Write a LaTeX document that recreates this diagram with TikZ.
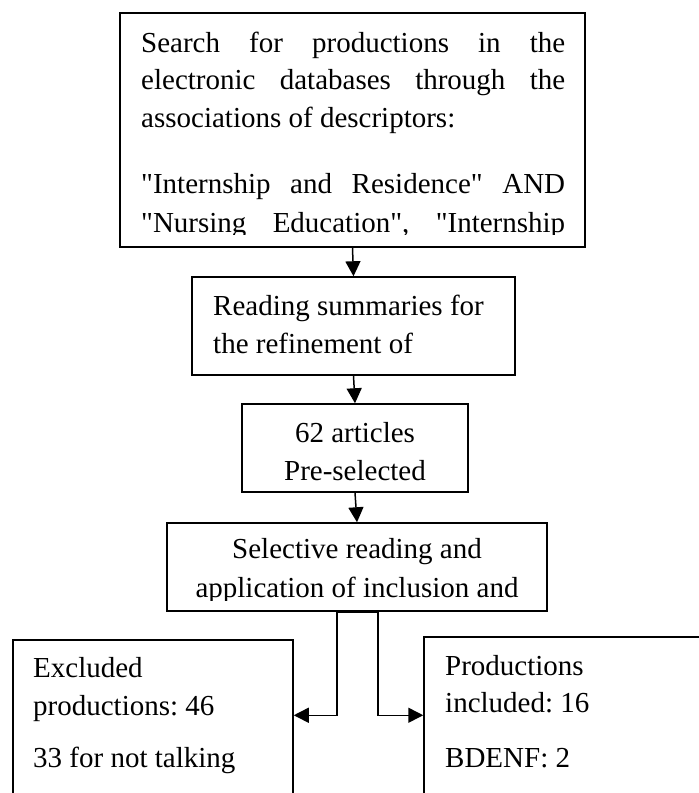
\documentclass[tikz,border=0pt]{standalone}
\usepackage{fontspec}
\setmainfont{Liberation Serif}[Ligatures=TeXOff]
\usetikzlibrary{arrows.meta,positioning,calc}
\frenchspacing

\begin{document}
\begin{tikzpicture}[>=Stealth, x=1pt, y=-1pt,
  box/.style={draw, line width=1.5pt, rectangle, inner sep=0pt},
  txt/.style={inner sep=0pt, font=\fontsize{29}{38}\selectfont},
  arr/.style={-{Triangle[length=15pt,width=15pt]}, line width=1.5pt}]
  \clip (0,0) rectangle (699,793);

  % Boxes
  \node[box, minimum width=465, minimum height=234] (search) at (352.5,130) {};
  \node[box, minimum width=323, minimum height=98] (summaries) at (353.5,326) {};
  \node[box, minimum width=226, minimum height=88] (preselected) at (355,448) {};
  \node[box, minimum width=380, minimum height=88] (selective) at (357,567) {};
  \node[box, minimum width=280, minimum height=210] (excluded) at (153,745) {};
  \node[box, minimum width=336, minimum height=213] (included) at (592,743.5) {};

  % Texts of the boxes
  \begin{scope}
    \clip (search.north west) rectangle (585,234);
    \foreach \y/\t [count=\k] in {52/Search for productions in the,
        89/electronic databases through the,
        193/{"Internship and Residence" AND},
        232/{"Nursing Education", "Internship}}
      \node[txt, anchor=base west] (search\k) at (141,\y) {\makebox[424pt][s]{\t}};
  \end{scope}
  \node[txt, anchor=base west] (searchd) at (141,127) {associations of descriptors:};

  \node[txt, anchor=base west] (summaries1) at (213,315) {Reading summaries for};
  \node[txt, anchor=base west] (summaries2) at (213,353) {the refinement of};

  \node[txt, anchor=base] (preselected1) at (355,442) {62 articles};
  \node[txt, anchor=base] (preselected2) at (355,480) {Pre-selected};

  \begin{scope}
    \clip (selective.north west) rectangle (547,600);
    \node[txt, anchor=base] (selective1) at (357,558) {Selective reading and};
    \node[txt, anchor=base] (selective2) at (357,597) {application of inclusion and};
  \end{scope}

  \foreach \y/\t [count=\k] in {677/Excluded, 715/productions: 46, 767/33 for not talking}
    \node[txt, anchor=base west] (excluded\k) at (33,\y) {\t};
  \foreach \y/\t [count=\k] in {675/Productions, 712/included: 16, 767/BDENF: 2}
    \node[txt, anchor=base west] (included\k) at (445,\y) {\t};

  % Connectors
  \coordinate (exin) at ($(excluded.north east)+(0,76)$);
  \coordinate (inin) at ($(included.north west)+(0,79)$);
  \draw[arr] (search.south) -- (summaries.north);
  \draw[arr] (summaries.south) -- (preselected.north);
  \draw[arr] (preselected.south) -- (selective.north);
  \draw[arr] (selective.south) -| ($(selective.south |- exin)+(-20,0)$) -- (exin);
  \draw[arr] (selective.south) -| ($(selective.south |- inin)+(21,0)$) -- (inin);
\end{tikzpicture}
\end{document}
